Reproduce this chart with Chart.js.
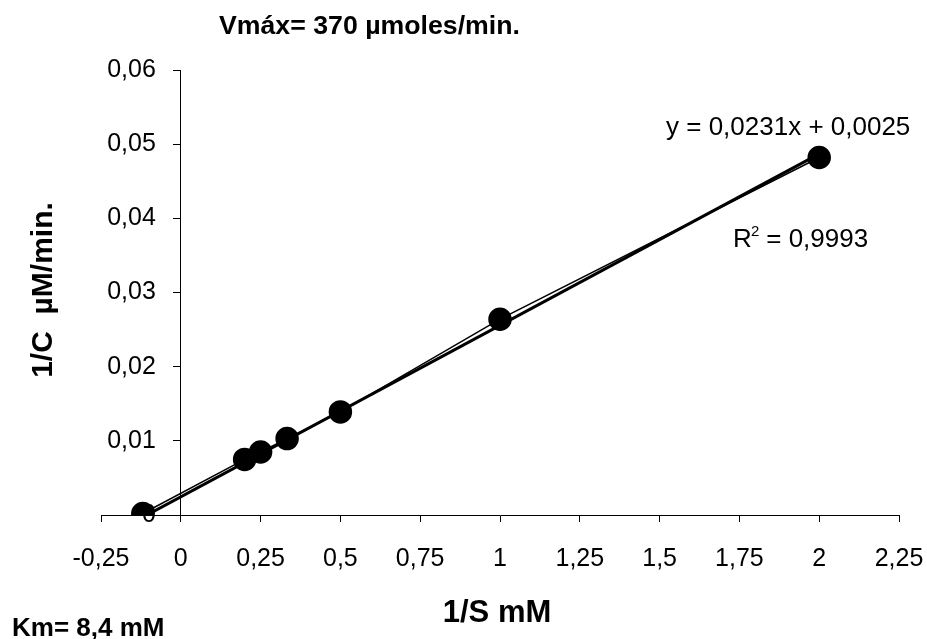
<!DOCTYPE html>
<html>
<head>
<meta charset="utf-8">
<script src="https://cdn.jsdelivr.net/npm/chart.js@4"></script>
<style>
  html, body { margin: 0; padding: 0; background: #fff; }
  #wrap { width: 927px; height: 639px; position: relative; }
</style>
</head>
<body>
<div id="wrap"><canvas id="lineweaver"></canvas></div>
<script>
// 1/S (mM^-1) and 1/v values
const invS = [-0.119, 0.2, 0.25, 0.333, 0.5, 1, 2];
const invV = [0.0002, 0.0075, 0.0085, 0.0103, 0.0139, 0.0264, 0.0482];

// trendline end points
const trendX = [-0.119, 2];
const trendY = [-0.0003, 0.0487];

const xTicks = [-0.25, 0, 0.25, 0.5, 0.75, 1, 1.25, 1.5, 1.75, 2, 2.25];
const yTicks = [0, 0.01, 0.02, 0.03, 0.04, 0.05, 0.06];

const FONT = '"Liberation Sans", Arial, sans-serif';

function comma(v) {
  return Number(v.toFixed(4)).toString().replace('.', ',');
}

// extra labels: title, axis titles, Km, equation and R²
const notes = {
  id: 'notes',
  afterDraw(chart) {
    const ctx = chart.ctx;
    ctx.save();
    ctx.fillStyle = '#000';
    ctx.textBaseline = 'alphabetic';
    ctx.textAlign = 'left';

    ctx.font = 'bold 26.7px ' + FONT;
    ctx.fillText('Vmáx= 370 µmoles/min.', 219, 34);

    ctx.font = 'bold 26px ' + FONT;
    ctx.fillText('Km= 8,4 mM', 12, 636);

    ctx.font = 'bold 31px ' + FONT;
    ctx.textAlign = 'center';
    ctx.fillText('1/S mM', 497, 622);

    ctx.font = 'bold 30px ' + FONT;
    ctx.save();
    ctx.translate(52, 290);
    ctx.rotate(-Math.PI / 2);
    ctx.fillText('1/C  µM/min.', 0, 0);
    ctx.restore();

    ctx.textAlign = 'left';
    ctx.font = '26px ' + FONT;
    ctx.fillText('y = 0,0231x + 0,0025', 666, 135);
    ctx.fillText('R', 733, 247);
    ctx.font = '15px ' + FONT;
    ctx.fillText('2', 751, 236);
    ctx.font = '26px ' + FONT;
    ctx.fillText(' = 0,9993', 759, 247);
    ctx.restore();
  }
};

new Chart(document.getElementById('lineweaver'), {
  type: 'scatter',
  data: {
    datasets: [{
      label: 'Lineal',
      data: trendX.map((x, i) => ({ x: x, y: trendY[i] })),
      showLine: true,
      borderColor: '#000',
      borderWidth: 3,
      pointRadius: 0,
      pointHoverRadius: 0
    }, {
      label: '1/v',
      data: invS.map((x, i) => ({ x: x, y: invV[i] })),
      showLine: true,
      borderColor: '#000',
      backgroundColor: '#000',
      borderWidth: 1.5,
      pointRadius: 11,
      pointHoverRadius: 11
    }]
  },
  options: {
    responsive: true,
    maintainAspectRatio: false,
    animation: false,
    layout: { padding: { left: 101, right: 28, top: 70, bottom: 43 } },
    plugins: {
      legend: { display: false },
      tooltip: { enabled: false }
    },
    scales: {
      x: {
        type: 'linear',
        position: 'bottom',
        min: -0.25,
        max: 2.25,
        afterBuildTicks: s => { s.ticks = xTicks.map(v => ({ value: v })); },
        // edge labels fit inside the fixed padding
        afterFit: s => { s.paddingLeft = 0; s.paddingRight = 0; },
        ticks: {
          color: '#000',
          padding: 22,
          maxRotation: 0,
          font: { family: FONT, size: 25 },
          callback: v => comma(v)
        },
        grid: { drawOnChartArea: false, drawTicks: true, tickLength: 7, color: '#000' },
        border: { display: true, color: '#000', width: 1 }
      },
      y: {
        type: 'linear',
        position: { x: 0 },
        min: 0,
        max: 0.06,
        afterBuildTicks: s => { s.ticks = yTicks.map(v => ({ value: v })); },
        ticks: {
          color: '#000',
          font: { family: FONT, size: 25 },
          // the axis sits at x = 0, so the labels are pushed left with en spaces
          callback: v => comma(v) + '\u2002\u2002'
        },
        grid: { drawOnChartArea: false, drawTicks: true, tickLength: 7, color: '#000' },
        border: { display: true, color: '#000', width: 1 }
      }
    }
  },
  plugins: [notes]
});
</script>
</body>
</html>
